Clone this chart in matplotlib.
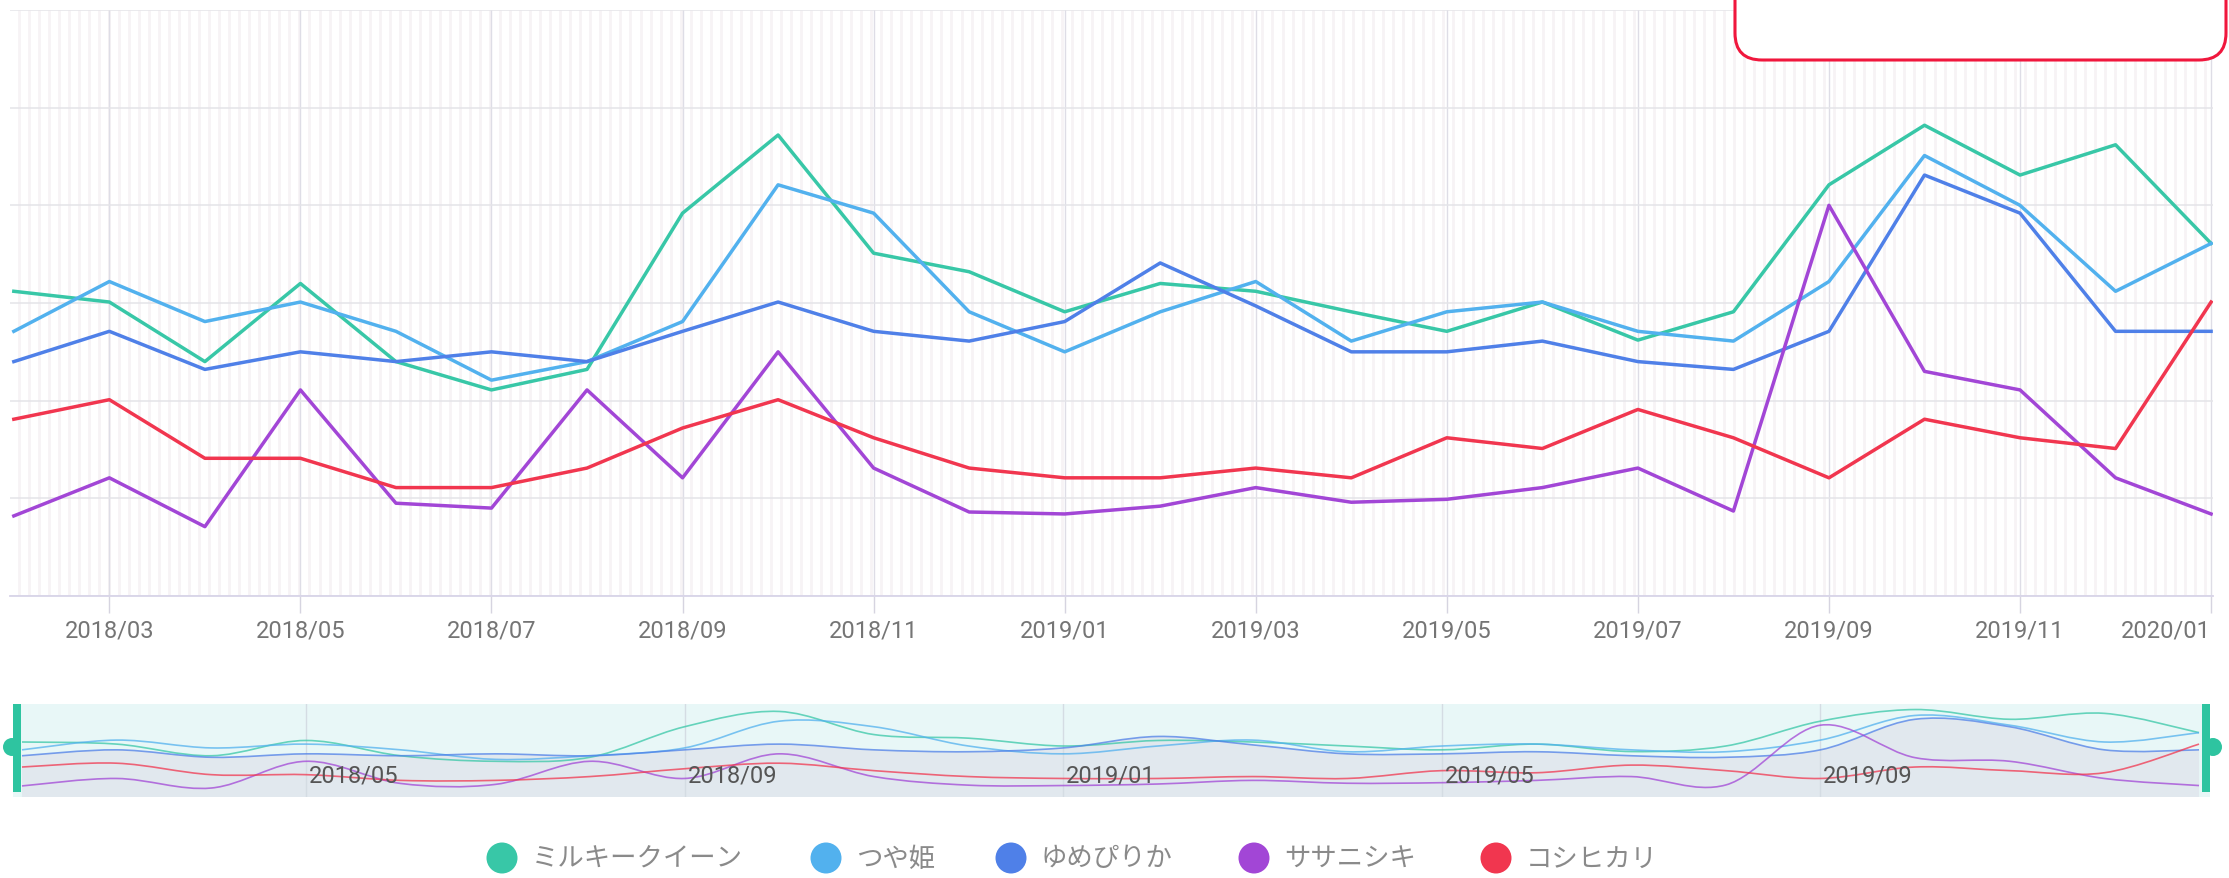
import numpy as np
import matplotlib
matplotlib.use("Agg")
import matplotlib.pyplot as plt
from matplotlib.path import Path
from matplotlib.patches import PathPatch, FancyBboxPatch, Circle, Rectangle

plt.rcParams['font.family'] = ['Roboto', 'Noto Sans CJK JP', 'DejaVu Sans']

# months 2018/02 .. 2020/01
months = ['2018/02', '2018/03', '2018/04', '2018/05', '2018/06', '2018/07',
          '2018/08', '2018/09', '2018/10', '2018/11', '2018/12', '2019/01',
          '2019/02', '2019/03', '2019/04', '2019/05', '2019/06', '2019/07',
          '2019/08', '2019/09', '2019/10', '2019/11', '2019/12', '2020/01']

names = ['ミルキークイーン', 'つや姫', 'ゆめぴりか', 'ササニシキ', 'コシヒカリ']
colors = ['#38c7a7', '#52b1ee', '#4f80e8', '#a246d6', '#f1364f']

milky_queen = [312, 301, 240, 320, 240, 211, 232, 392, 472, 351, 332, 291,
               320, 312, 291, 271, 301, 262, 291, 421, 482, 431, 462, 361]
tsuyahime = [271, 322, 281, 301, 271, 221, 240, 281, 421, 392, 291, 250,
             291, 322, 261, 291, 301, 271, 261, 322, 451, 400, 312, 361]
yumepirika = [240, 271, 232, 250, 240, 250, 240, 271, 301, 271, 261, 281,
              341, 297, 250, 250, 261, 240, 232, 271, 431, 392, 271, 271]
sasanishiki = [82, 121, 71, 211, 95, 90, 211, 121, 250, 131, 86, 84,
               92, 111, 96, 99, 111, 131, 87, 400, 230, 211, 121, 84]
koshihikari = [181, 201, 141, 141, 111, 111, 131, 172, 201, 162, 131, 121,
               121, 131, 121, 162, 151, 191, 162, 121, 181, 162, 151, 301]

series = [milky_queen, tsuyahime, yumepirika, sasanishiki, koshihikari]
x = np.arange(len(months))

W, H = 2229, 879
fig = plt.figure(figsize=(W / 100, H / 100), dpi=100)


def box(l, t, r, b):
    return [l / W, 1 - b / H, (r - l) / W, (b - t) / H]


# main chart
ax = fig.add_axes(box(10, 11, 2213, 597))
ax.set_xlim(-0.04, 23.02)
ax.set_ylim(0, 600)
# faint background stripes
ax.vlines(np.arange(0.05, 23.0, 0.105), 0, 600, color='#f7f3f5', lw=2.0, zorder=0)
ax.set_yticks(range(0, 601, 100))
ax.yaxis.grid(True, color='#e4e4e8', lw=1.1, zorder=1)
ax.tick_params(axis='y', left=False, labelleft=False)
tick_idx = list(range(1, 24, 2))
ax.set_xticks(tick_idx)
ax.set_xticklabels([months[i] for i in tick_idx])
ax.xaxis.grid(True, color='#dedde6', lw=1.0, zorder=1)
ax.tick_params(axis='x', length=12, width=1.0, color='#d6d4e0', pad=4,
               labelsize=17, labelcolor='#757575')
ax.get_xticklabels()[-1].set_horizontalalignment('right')
for s in ['top', 'right', 'left']:
    ax.spines[s].set_visible(False)
ax.spines['bottom'].set_color('#d8d4e8')
ax.spines['bottom'].set_linewidth(1.3)
for vals, c in zip(series, colors):
    ax.plot(x, vals, color=c, lw=2.5, zorder=3)


# smooth curve through the points (cubic Bezier segments)
def smooth_path(xs, ys, base=None):
    pts = np.column_stack([xs, ys]).astype(float)
    n = len(pts)
    verts = [pts[0]]
    codes = [Path.MOVETO]
    for i in range(n - 1):
        p0 = pts[max(i - 1, 0)]
        p1 = pts[i]
        p2 = pts[i + 1]
        p3 = pts[min(i + 2, n - 1)]
        verts += [p1 + (p2 - p0) / 6, p2 - (p3 - p1) / 6, p2]
        codes += [Path.CURVE4] * 3
    if base is not None:
        verts += [(pts[-1, 0], base), (pts[0, 0], base), pts[0]]
        codes += [Path.LINETO, Path.LINETO, Path.CLOSEPOLY]
    return Path(verts, codes)


# data zoom slider
sx = fig.add_axes(box(13, 705, 2210, 798))
sx.set_xlim(-0.095, 23.116)
sx.set_ylim(24, 511)
sx.set_facecolor('#e8f7f7')
for s in sx.spines.values():
    s.set_visible(False)
sx.set_xticks([])
sx.set_yticks([])
sx.add_patch(PathPatch(smooth_path(x, yumepirika, base=0), fc='#e1e8ee',
                       ec='none', zorder=1))
slider_idx = [3, 7, 11, 15, 19]
for i in slider_idx:
    sx.axvline(i, color='#d4dce3', lw=1.0, zorder=2)
    sx.text(i + 0.03, 140, months[i], ha='left', va='center', fontsize=17,
            color='#555555', zorder=5)
for vals, c in zip(series, colors):
    sx.add_patch(PathPatch(smooth_path(x, vals), fc='none', ec=c, lw=1.2,
                           alpha=0.75, zorder=3))

# slider handles
handle_color = '#2ec4a0'
for rx, cx in [(13, 12), (2202, 2213)]:
    fig.add_artist(Rectangle((rx, H - 793), 8, 88, transform=None,
                             fc=handle_color, ec='none'))
    fig.add_artist(Circle((cx, H - 748), 9, transform=None,
                          fc=handle_color, ec='none'))

# red framed box at top right
fig.add_artist(FancyBboxPatch((1735, H - 61), 491, 120, transform=None,
                              boxstyle='round,pad=0,rounding_size=27',
                              fc='white', ec='#f0173d', lw=2.2))

# legend
legend_x = [502, 826, 1011, 1254, 1496]
for lx, name, c in zip(legend_x, names, colors):
    fig.add_artist(Circle((lx, H - 859), 15.5, transform=None, fc=c, ec='none'))
    fig.text((lx + 30) / W, 1 - 859 / H, name, ha='left', va='center',
             fontsize=19, color='#8a8a8a',
             family=['Noto Sans CJK JP', 'DejaVu Sans'])

fig.savefig('out.png', dpi=100)
